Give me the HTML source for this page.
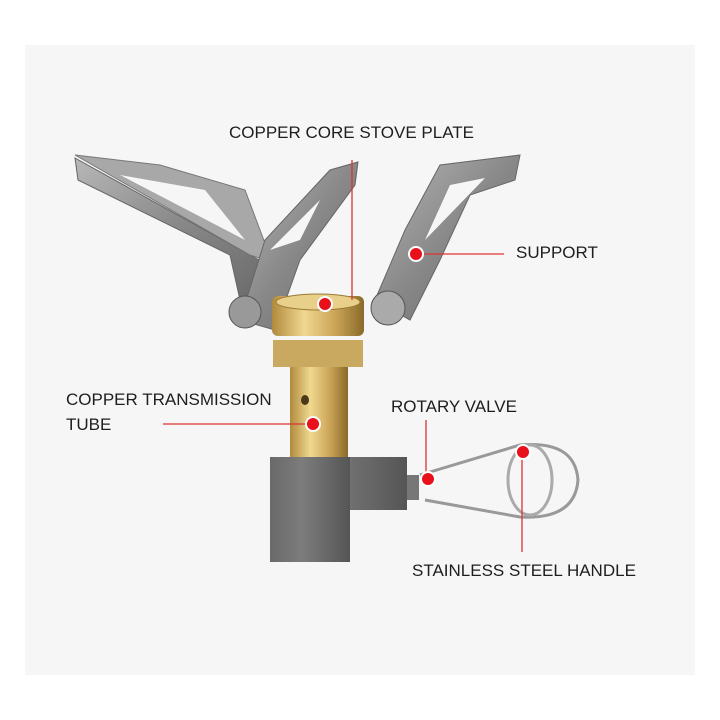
<!DOCTYPE html>
<html><head><style>
html,body{margin:0;padding:0;background:#fff}
svg{display:block}
text{font-family:"Liberation Sans","DejaVu Sans",sans-serif;font-size:17px;fill:#1e1e1e}
</style></head><body>
<svg width="720" height="720" viewBox="0 0 720 720">
<rect x="0" y="0" width="720" height="720" fill="#fff"/>
<rect x="25" y="45" width="670" height="630" fill="#f6f6f6"/>
<defs>
<linearGradient id="brass" x1="0" x2="1">
<stop offset="0" stop-color="#b08a3c"/><stop offset="0.35" stop-color="#f0d890"/><stop offset="0.7" stop-color="#c9a255"/><stop offset="1" stop-color="#8a6a2a"/></linearGradient>
<linearGradient id="steel" x1="0" x2="1" y1="0" y2="1">
<stop offset="0" stop-color="#b8b8b8"/><stop offset="0.5" stop-color="#888"/><stop offset="1" stop-color="#6a6a6a"/></linearGradient>
<linearGradient id="grey" x1="0" x2="1">
<stop offset="0" stop-color="#6a6a6a"/><stop offset="0.4" stop-color="#7c7c7c"/><stop offset="1" stop-color="#555"/></linearGradient>
</defs>
<!-- left arm -->
<path d="M75 158 L78 180 L230 255 L240 300 L270 300 L268 265 Z" fill="url(#steel)" stroke="#666" stroke-width="1"/>
<path d="M75 155 L160 165 L245 190 L272 262 L250 255 Z" fill="#a8a8a8" stroke="#777"/>
<path d="M120 175 L205 190 L245 240 Z" fill="#f6f6f6"/>
<!-- middle arm -->
<path d="M240 320 L265 240 L330 170 L358 162 L355 185 L300 260 L275 330 Z" fill="url(#steel)" stroke="#666"/>
<path d="M270 250 L320 200 L300 240 Z" fill="#f6f6f6"/>
<!-- right arm -->
<path d="M375 300 L405 230 L440 165 L520 155 L515 180 L470 195 L440 260 L410 320 Z" fill="url(#steel)" stroke="#666"/>
<path d="M425 240 L450 185 L485 178 Z" fill="#f6f6f6"/>
<!-- burner -->
<rect x="272" y="296" width="92" height="40" rx="6" fill="url(#brass)"/>
<ellipse cx="318" cy="302" rx="42" ry="8" fill="#e8cf8a" stroke="#9a7a35"/>
<circle cx="245" cy="312" r="16" fill="#999" stroke="#555"/>
<circle cx="388" cy="308" r="17" fill="#aaa" stroke="#555"/>
<!-- hex nut -->
<rect x="273" y="340" width="90" height="27" fill="#c9a860"/>
<!-- tube -->
<rect x="290" y="367" width="58" height="93" fill="url(#brass)"/>
<ellipse cx="305" cy="400" rx="4" ry="5" fill="#4a3818"/>
<!-- gray block -->
<rect x="270" y="457" width="137" height="53" fill="url(#grey)"/>
<rect x="270" y="457" width="80" height="105" fill="url(#grey)"/>
<rect x="407" y="475" width="12" height="25" fill="#777"/>
<!-- handle -->
<path d="M420 475 L520 445 Q575 440 578 480 Q575 520 520 517 L425 500" fill="none" stroke="#999" stroke-width="3"/>
<ellipse cx="530" cy="480" rx="22" ry="35" fill="none" stroke="#aaa" stroke-width="3"/>
<!-- callouts -->
<g stroke="#d33" stroke-width="1.3" fill="none">
<line x1="352" y1="160" x2="352" y2="300"/>
<line x1="418" y1="254" x2="504" y2="254"/>
<line x1="163" y1="424" x2="308" y2="424"/>
<line x1="426" y1="420" x2="426" y2="478"/>
<line x1="522" y1="452" x2="522" y2="552"/>
</g>
<g fill="#e8101a" stroke="#fff" stroke-width="2">
<circle cx="325" cy="304" r="7"/>
<circle cx="416" cy="254" r="7"/>
<circle cx="313" cy="424" r="7"/>
<circle cx="428" cy="479" r="7"/>
<circle cx="523" cy="452" r="7"/>
</g>
<text x="229" y="138">COPPER CORE STOVE PLATE</text>
<text x="516" y="258">SUPPORT</text>
<text x="66" y="405">COPPER TRANSMISSION</text>
<text x="66" y="430">TUBE</text>
<text x="391" y="412">ROTARY VALVE</text>
<text x="412" y="576">STAINLESS STEEL HANDLE</text>
</svg>
</body></html>
